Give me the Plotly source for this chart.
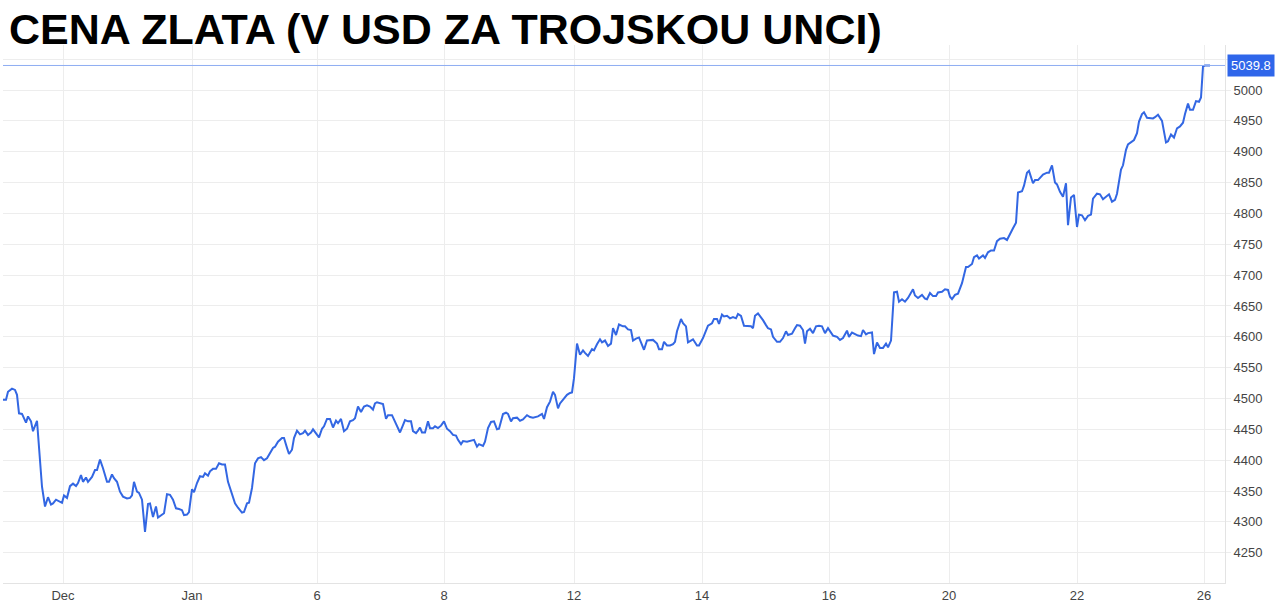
import plotly.graph_objects as go

# bar position (session index on the compressed time axis) and price in USD
bar = [0, 3, 5, 9, 12, 14, 16, 19, 23, 25, 28, 30, 34, 36, 39, 42, 45, 48, 50, 53, 55, 59, 61, 64, 67, 70, 73, 75, 78, 80,
       83, 85, 89, 92, 94, 97, 100, 104, 106, 109, 111, 114, 117, 120, 124, 127, 129, 131, 134, 136, 139, 142, 145, 147, 150, 153, 155, 159, 161, 164,
       167, 170, 173, 176, 179, 181, 184, 186, 189, 191, 194, 197, 200, 202, 205, 207, 210, 213, 216, 219, 222, 225, 229, 232, 235, 239, 241, 244, 246, 249,
       252, 255, 258, 261, 264, 267, 270, 272, 275, 279, 281, 284, 286, 289, 291, 294, 297, 300, 302, 305, 308, 310, 314, 316, 319, 321, 324, 327, 330, 333,
       335, 338, 341, 344, 347, 350, 352, 355, 358, 361, 364, 367, 370, 372, 374, 377, 380, 383, 385, 389, 392, 394, 397, 400, 402, 405, 408, 410, 413, 415,
       417, 419, 422, 425, 427, 430, 432, 435, 438, 441, 444, 447, 450, 453, 455, 458, 460, 464, 467, 471, 474, 476, 480, 482, 485, 488, 491, 494, 496, 500,
       503, 505, 508, 510, 514, 517, 520, 524, 527, 530, 535, 539, 541, 544, 547, 550, 552, 555, 557, 560, 564, 567, 569, 571, 574, 577, 580, 582, 585, 589,
       591, 594, 597, 599, 602, 605, 608, 610, 613, 616, 620, 622, 625, 628, 630, 633, 636, 639, 641, 644, 648, 650, 654, 656, 659, 661, 664, 667, 670, 672,
       674, 678, 680, 683, 685, 688, 690, 694, 696, 700, 703, 705, 709, 711, 714, 716, 719, 721, 724, 727, 730, 733, 735, 738, 741, 744, 748, 750, 752, 755,
       757, 760, 763, 765, 768, 770, 774, 777, 780, 783, 785, 789, 792, 794, 797, 800, 802, 804, 807, 810, 813, 816, 819, 822, 825, 827, 830, 832, 834, 837,
       840, 844, 846, 849, 852, 855, 858, 860, 863, 865, 869, 871, 874, 877, 880, 883, 885, 888, 891, 894, 896, 899, 902, 905, 910, 912, 915, 919, 922, 924,
       927, 930, 933, 935, 939, 942, 945, 947, 949, 952, 955, 959, 963, 965, 969, 971, 974, 976, 980, 982, 985, 988, 991, 994, 997, 1001, 1004, 1006, 1010, 1013,
       1015, 1019, 1021, 1024, 1026, 1030, 1032, 1035, 1038, 1040, 1044, 1046, 1049, 1052, 1054, 1057, 1060, 1063, 1065, 1068, 1071, 1074, 1076, 1079, 1082, 1085, 1088, 1090,
       1094, 1097, 1100, 1103, 1106, 1109, 1112, 1114, 1116, 1118, 1120, 1123, 1125, 1128, 1131, 1134, 1136, 1139, 1141, 1144, 1147, 1150, 1152, 1155, 1159, 1160, 1163, 1165,
       1168, 1171, 1174, 1177, 1180, 1182, 1185, 1187, 1190, 1193, 1196, 1198, 1200, 1202, 1207]

price = [4498, 4498, 4511, 4516, 4514, 4506, 4476, 4475, 4461, 4471, 4463, 4447, 4464, 4422, 4357, 4325, 4340, 4328, 4330, 4336, 4334, 4331, 4343, 4339, 4358, 4362, 4358, 4363, 4376, 4365,
         4372, 4365, 4373, 4384, 4384, 4401, 4387, 4365, 4365, 4377, 4371, 4365, 4349, 4341, 4338, 4339, 4343, 4365, 4349, 4347, 4336, 4284, 4329, 4330, 4308, 4325, 4307, 4311, 4314, 4345,
         4344, 4336, 4322, 4321, 4319, 4311, 4312, 4316, 4353, 4348, 4363, 4374, 4373, 4379, 4375, 4382, 4386, 4386, 4395, 4393, 4393, 4365, 4346, 4330, 4323, 4315, 4316, 4330, 4331, 4355,
         4395, 4403, 4405, 4400, 4403, 4412, 4420, 4422, 4430, 4436, 4436, 4420, 4410, 4417, 4436, 4448, 4442, 4444, 4448, 4441, 4445, 4450, 4441, 4437, 4451, 4455, 4467, 4467, 4453, 4464,
         4460, 4467, 4447, 4451, 4463, 4465, 4468, 4487, 4478, 4487, 4489, 4487, 4482, 4492, 4494, 4493, 4491, 4467, 4473, 4473, 4463, 4454, 4445, 4457, 4465, 4463, 4463, 4447, 4444, 4448,
         4453, 4445, 4445, 4463, 4452, 4452, 4455, 4452, 4456, 4463, 4451, 4447, 4441, 4440, 4433, 4426, 4431, 4430, 4431, 4433, 4422, 4426, 4423, 4430, 4452, 4462, 4463, 4450, 4451, 4475,
         4477, 4475, 4463, 4468, 4469, 4464, 4466, 4473, 4470, 4469, 4471, 4475, 4467, 4486, 4495, 4511, 4506, 4484, 4492, 4498, 4506, 4509, 4510, 4533, 4589, 4571, 4578, 4574, 4569, 4580,
         4578, 4588, 4596, 4591, 4594, 4585, 4589, 4614, 4603, 4620, 4617, 4617, 4612, 4611, 4594, 4597, 4599, 4587, 4579, 4594, 4595, 4595, 4589, 4580, 4580, 4592, 4586, 4586, 4588, 4592,
         4609, 4629, 4622, 4617, 4591, 4594, 4596, 4586, 4586, 4598, 4609, 4618, 4622, 4629, 4629, 4621, 4636, 4633, 4634, 4630, 4632, 4630, 4637, 4634, 4618, 4618, 4617, 4614, 4634, 4638,
         4634, 4627, 4619, 4614, 4612, 4600, 4592, 4592, 4598, 4609, 4603, 4605, 4614, 4619, 4618, 4611, 4589, 4609, 4613, 4606, 4617, 4618, 4617, 4606, 4614, 4609, 4602, 4601, 4600, 4595,
         4598, 4610, 4600, 4607, 4604, 4602, 4601, 4611, 4604, 4606, 4607, 4572, 4591, 4582, 4582, 4589, 4583, 4594, 4672, 4673, 4657, 4661, 4657, 4663, 4677, 4667, 4663, 4668, 4662, 4661,
         4671, 4666, 4666, 4672, 4673, 4677, 4676, 4665, 4661, 4668, 4670, 4687, 4713, 4713, 4718, 4729, 4732, 4727, 4732, 4728, 4737, 4740, 4740, 4755, 4759, 4760, 4757, 4764, 4776, 4785,
         4834, 4836, 4845, 4866, 4869, 4849, 4854, 4854, 4860, 4863, 4866, 4866, 4878, 4850, 4847, 4835, 4827, 4849, 4781, 4826, 4830, 4778, 4798, 4797, 4789, 4796, 4798, 4824,
         4832, 4831, 4823, 4827, 4831, 4819, 4822, 4832, 4854, 4871, 4878, 4903, 4912, 4915, 4919, 4930, 4949, 4961, 4964, 4955, 4954, 4954, 4956, 4960, 4950, 4941, 4915, 4917,
         4928, 4923, 4938, 4941, 4947, 4961, 4978, 4968, 4968, 4982, 4981, 4988, 5038, 5039.8, 5039.8]

last_price = 5039.8
tick_pos = [60, 189, 314, 441, 571, 699, 826, 946, 1074, 1201]
tick_text = ["Dec", "Jan", "6", "8", "12", "14", "16", "20", "22", "26"]
y_ticks = [4250, 4300, 4350, 4400, 4450, 4500, 4550, 4600, 4650, 4700, 4750, 4800, 4850, 4900, 4950, 5000, 5050]

title_text = "CENA ZLATA (V USD ZA TROJSKOU UNCI)"

LINE = "#3367e3"
GRID = "#ededed"
TICKFONT = dict(family="Liberation Sans, Arial, sans-serif", size=13, color="#444")

fig = go.Figure()
fig.add_trace(go.Scatter(x=bar, y=price, mode="lines",
                         line=dict(color=LINE, width=2), hoverinfo="x+y",
                         showlegend=False))

fig.add_shape(type="line", xref="paper", x0=0, x1=1, yref="y", y0=last_price, y1=last_price,
              line=dict(color="#8eadf2", width=1))

fig.add_annotation(xref="paper", x=1.0, xanchor="left", xshift=2, yref="y", y=last_price,
                   yanchor="middle", text=f"{last_price:.1f}", showarrow=False,
                   bgcolor="#2f66ea", borderpad=3,
                   font=dict(color="white", size=13, family="Liberation Sans, Arial, sans-serif"))

# chart title
fig.add_annotation(xref="paper", x=5 / 1222, xanchor="left", yref="paper", y=1 + 41 / 538,
                   yanchor="top", text=f"<b>{title_text}</b>", showarrow=False, borderpad=0,
                   font=dict(family="Liberation Sans, Arial, sans-serif", size=43, color="black"))

fig.update_layout(
    width=1280, height=609,
    margin=dict(l=3, r=55, t=45, b=26),
    paper_bgcolor="white", plot_bgcolor="white",
    xaxis=dict(range=[0, 1222], tickmode="array", tickvals=tick_pos, ticktext=tick_text,
               showgrid=True, gridcolor=GRID, gridwidth=1, zeroline=False,
               showline=True, linecolor="#e3e3e3", linewidth=1, ticks="",
               tickfont=TICKFONT),
    yaxis=dict(side="right", range=[4201, 5073], tickmode="array", tickvals=y_ticks,
               showgrid=True, gridcolor=GRID, gridwidth=1, zeroline=False,
               showline=True, linecolor="#e3e3e3", linewidth=1,
               ticks="outside", ticklen=5, tickcolor=GRID,
               tickfont=TICKFONT),
)

fig.write_html("out.html", config={"displayModeBar": False},
               post_script="document.body.style.margin='0';document.body.style.overflow='hidden';")
